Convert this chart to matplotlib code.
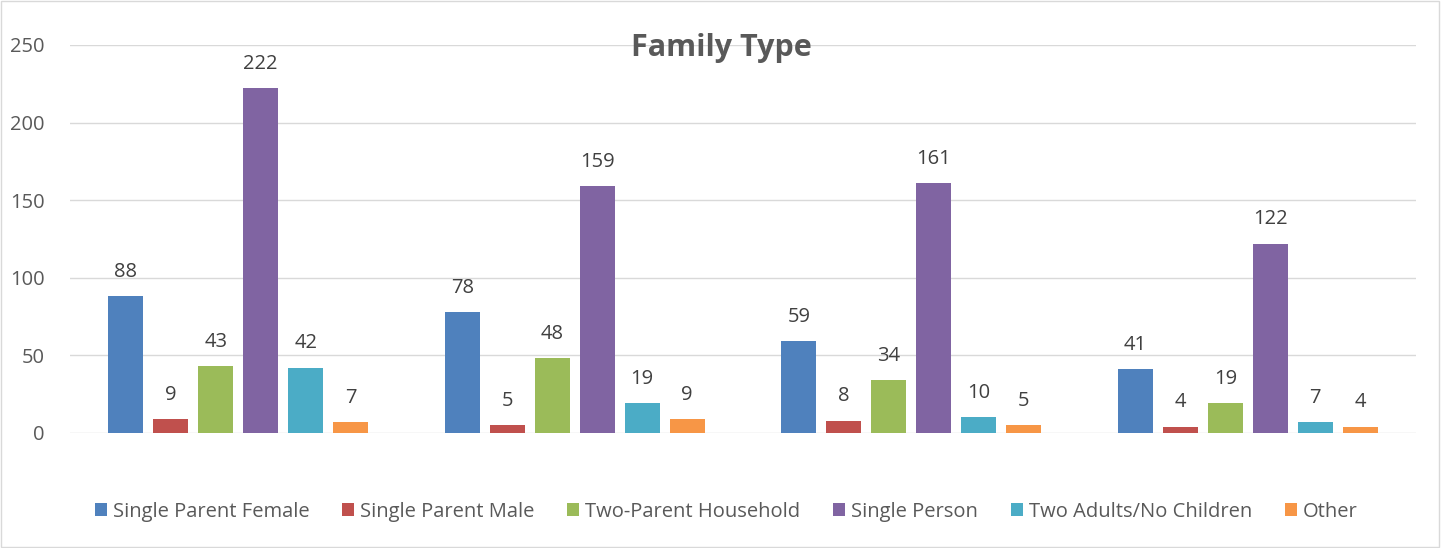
import matplotlib.pyplot as plt
import numpy as np

plt.rcParams['font.family'] = ['Open Sans', 'DejaVu Sans']

series = ["Single Parent Female", "Single Parent Male", "Two-Parent Household",
          "Single Person", "Two Adults/No Children", "Other"]
colors = ["#4F81BD", "#C0504D", "#9BBB59", "#8064A2", "#4BACC6", "#F79646"]
groups = ["Group 1", "Group 2", "Group 3", "Group 4"]

single_parent_female = [88, 78, 59, 41]
single_parent_male = [9, 5, 8, 4]
two_parent_household = [43, 48, 34, 19]
single_person = [222, 159, 161, 122]
two_adults_no_children = [42, 19, 10, 7]
other = [7, 9, 5, 4]

values = [single_parent_female, single_parent_male, two_parent_household,
          single_person, two_adults_no_children, other]

fig = plt.figure(figsize=(14.42, 5.48), dpi=100)
ax = fig.add_axes([0.0485, 0.2099, 0.9335, 0.708])

x = np.arange(len(groups))
step = 0.1337
width = 0.104
for i, (name, vals, c) in enumerate(zip(series, values, colors)):
    pos = x + (i - 2.5) * step
    bars = ax.bar(pos, vals, width, color=c, label=name, zorder=3)
    for b, v in zip(bars, vals):
        ax.annotate(str(v), (b.get_x() + b.get_width() / 2, v),
                    xytext=(0, 17.5), textcoords="offset points",
                    ha="center", va="center", fontsize=14.5, color="#404040")

ax.set_xlim(-0.5, 3.5)
ax.set_ylim(0, 250)
ax.set_yticks(range(0, 251, 50))
ax.set_xticks([])
ax.tick_params(axis="y", length=0, labelsize=14.5, labelcolor="#595959", pad=18)
ax.grid(axis="y", color="#D9D9D9", linewidth=1, zorder=0)
for s in ax.spines.values():
    s.set_visible(False)

fig.text(0.5, 0.912, "Family Type", ha="center", va="center",
         fontsize=22, fontweight="bold", color="#595959")

leg = fig.legend(loc="center", bbox_to_anchor=(0.5035, 0.066), ncol=6, frameon=False,
                 fontsize=14.5, handlelength=0.6, handleheight=0.6, handletextpad=0.3,
                 columnspacing=1.62, labelcolor="#595959")

fig.patches.append(plt.Rectangle((0.001, 0.002), 0.997, 0.996, transform=fig.transFigure,
                                 fill=False, edgecolor="#D9D9D9", linewidth=1))

fig.savefig("out.png", dpi=100)
